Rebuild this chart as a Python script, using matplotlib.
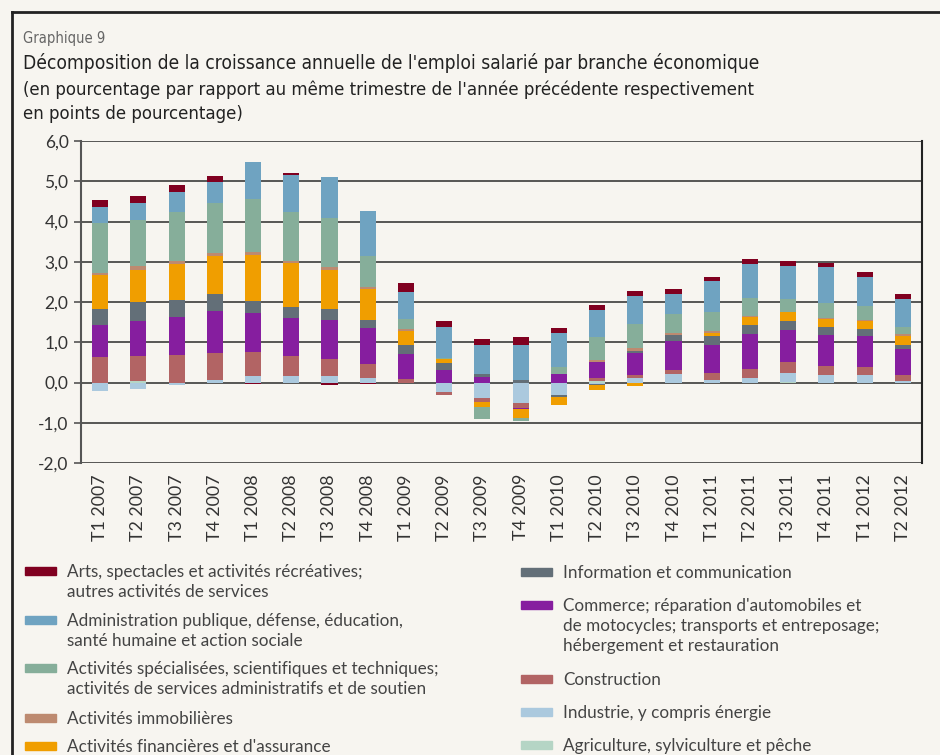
import numpy as np
import matplotlib
matplotlib.use("Agg")
import matplotlib.pyplot as plt
from matplotlib.patches import Rectangle
from matplotlib.lines import Line2D

# Quarter labels
quarters = ["T1 2007", "T2 2007", "T3 2007", "T4 2007",
            "T1 2008", "T2 2008", "T3 2008", "T4 2008",
            "T1 2009", "T2 2009", "T3 2009", "T4 2009",
            "T1 2010", "T2 2010", "T3 2010", "T4 2010",
            "T1 2011", "T2 2011", "T3 2011", "T4 2011",
            "T1 2012", "T2 2012"]

# Contributions in percentage points
agriculture = [0.00, 0.03, 0.00, 0.00, 0.00, 0.00, 0.00, 0.00, 0.00, 0.00, 0.00,
               0.00, 0.00, 0.04, 0.00, 0.00, 0.00, 0.00, 0.02, 0.00, 0.00, 0.00]
industrie = [-0.21, -0.17, -0.07, 0.06, 0.16, 0.16, 0.16, 0.11, 0.00, -0.24, -0.39,
             -0.51, -0.31, -0.03, 0.11, 0.21, 0.06, 0.11, 0.21, 0.18, 0.18, 0.03]
construction = [0.63, 0.62, 0.68, 0.67, 0.60, 0.50, 0.42, 0.35, 0.08, -0.07, -0.10,
                -0.12, 0.00, 0.07, 0.07, 0.10, 0.17, 0.22, 0.27, 0.22, 0.20, 0.15]
commerce = [0.80, 0.87, 0.94, 1.04, 0.97, 0.94, 0.97, 0.89, 0.62, 0.31, 0.13,
            -0.03, 0.21, 0.40, 0.55, 0.72, 0.70, 0.87, 0.80, 0.77, 0.77, 0.65]
information = [0.40, 0.47, 0.42, 0.42, 0.30, 0.27, 0.27, 0.20, 0.22, 0.17, 0.07,
               0.06, -0.05, -0.02, 0.05, 0.15, 0.22, 0.22, 0.22, 0.20, 0.17, 0.10]
finance = [0.83, 0.80, 0.90, 0.95, 1.13, 1.09, 0.98, 0.77, 0.37, 0.10, -0.12,
           -0.22, -0.20, -0.13, -0.09, 0.00, 0.07, 0.20, 0.22, 0.22, 0.22, 0.22]
immobilier = [0.07, 0.10, 0.07, 0.07, 0.07, 0.05, 0.07, 0.05, 0.05, 0.00, 0.00,
              0.00, 0.00, 0.05, 0.07, 0.05, 0.07, 0.02, 0.02, 0.02, 0.02, 0.05]
specialisees = [1.23, 1.14, 1.22, 1.24, 1.34, 1.22, 1.22, 0.77, 0.25, 0.03, -0.30,
                -0.08, 0.17, 0.57, 0.60, 0.47, 0.47, 0.45, 0.32, 0.37, 0.35, 0.17]
administration = [0.41, 0.44, 0.50, 0.52, 0.92, 0.92, 1.01, 1.12, 0.67, 0.77, 0.72,
                  0.87, 0.85, 0.67, 0.70, 0.50, 0.75, 0.85, 0.82, 0.89, 0.72, 0.70]
arts = [0.17, 0.17, 0.17, 0.17, -0.04, 0.05, -0.06, -0.04, 0.20, 0.15, 0.17,
        0.20, 0.12, 0.12, 0.12, 0.12, 0.12, 0.12, 0.12, 0.10, 0.12, 0.12]

# Stack order from the bottom up
series = [
    (agriculture, "#b5d5c5", "Agriculture, sylviculture et pêche"),
    (industrie, "#abc9de", "Industrie, y compris énergie"),
    (construction, "#b26464", "Construction"),
    (commerce, "#861e9f", "Commerce; réparation d'automobiles et\nde motocycles; transports et entreposage;\nhébergement et restauration"),
    (information, "#636f78", "Information et communication"),
    (finance, "#f09e00", "Activités financières et d'assurance"),
    (immobilier, "#bd8a70", "Activités immobilières"),
    (specialisees, "#86ae9a", "Activités spécialisées, scientifiques et techniques;\nactivités de services administratifs et de soutien"),
    (administration, "#6fa3c1", "Administration publique, défense, éducation,\nsanté humaine et action sociale"),
    (arts, "#800020", "Arts, spectacles et activités récréatives;\nautres activités de services"),
]

BG = "#f7f5f0"
W, H = 940, 755
plt.rcParams["font.family"] = ["Lato", "DejaVu Sans"]

fig = plt.figure(figsize=(W / 100, H / 100), dpi=100, facecolor=BG)
ax = fig.add_axes([81 / W, 1 - 463 / H, (922 - 81) / W, (463 - 141) / H])
ax.set_facecolor(BG)

x = np.arange(len(quarters))
pos_base = np.zeros(len(quarters))
neg_base = np.zeros(len(quarters))
for vals, col, name in series:
    v = np.array(vals)
    p = np.where(v > 0, v, 0)
    n = np.where(v < 0, v, 0)
    ax.bar(x, p, 0.42, bottom=pos_base, color=col, zorder=3)
    ax.bar(x, n, 0.42, bottom=neg_base, color=col, zorder=3)
    pos_base += p
    neg_base += n

ax.set_xlim(-0.5, len(quarters) - 0.5)
ax.set_ylim(-2, 6)
yt = np.arange(-2, 7, 1.0)
ax.set_yticks(yt)
ax.set_yticklabels([f"{t:.1f}".replace(".", ",") for t in yt])
for t in yt:
    ax.axhline(t, color="#4a4a48", lw=1.3, zorder=1)
ax.set_xticks(x)
ax.set_xticklabels(quarters, rotation=90)
ax.tick_params(axis="y", length=5, width=1.2, color="#555", labelsize=12.5,
               labelcolor="#333", pad=4)
ax.tick_params(axis="x", length=0, labelsize=12.8, labelcolor="#333", pad=8)
for s in ["top", "bottom"]:
    ax.spines[s].set_visible(False)
ax.spines["left"].set_color("#555")
ax.spines["left"].set_linewidth(1.5)
ax.spines["right"].set_color("#222")
ax.spines["right"].set_linewidth(1.5)

# Titles (condensed face)
cond = dict(family="DejaVu Sans", stretch="condensed")
fig.text(23 / W, 1 - 38 / H, "Graphique 9", fontsize=10.5, color="#666",
         va="center", **cond)
fig.text(23 / W, 1 - 63 / H,
         "Décomposition de la croissance annuelle de l'emploi salarié par branche économique",
         fontsize=13.8, color="#222", va="center", **cond)
fig.text(23 / W, 1 - 90 / H,
         "(en pourcentage par rapport au même trimestre de l'année précédente respectivement",
         fontsize=13.3, color="#222", va="center", **cond)
fig.text(23 / W, 1 - 114 / H, "en points de pourcentage)",
         fontsize=13.3, color="#222", va="center", **cond)

# Legend, drawn by hand in two columns
left_items = [9, 8, 7, 6, 5]
left_y = [571, 620, 668, 718, 746]
right_items = [4, 3, 2, 1, 0]
right_y = [572, 605, 679, 712, 745]
for items, ys, px, tx in [(left_items, left_y, 25, 67), (right_items, right_y, 521, 563)]:
    for i, yy in zip(items, ys):
        vals, col, name = series[i]
        fig.patches.append(Rectangle((px / W, 1 - (yy + 4) / H), 31 / W, 8 / H,
                                     transform=fig.transFigure, color=col))
        fig.text(tx / W, 1 - (yy - 7) / H, name, fontsize=12.3, color="#444",
                 va="top", linespacing=1.3)

# Frame around the figure
fig.lines.append(Line2D([12 / W, 12 / W], [0, 1 - 12 / H], transform=fig.transFigure,
                        color="#222", lw=2))
fig.lines.append(Line2D([12 / W, 1], [1 - 12 / H, 1 - 12 / H], transform=fig.transFigure,
                        color="#222", lw=2))

fig.savefig("out.png", dpi=100, facecolor=BG)
